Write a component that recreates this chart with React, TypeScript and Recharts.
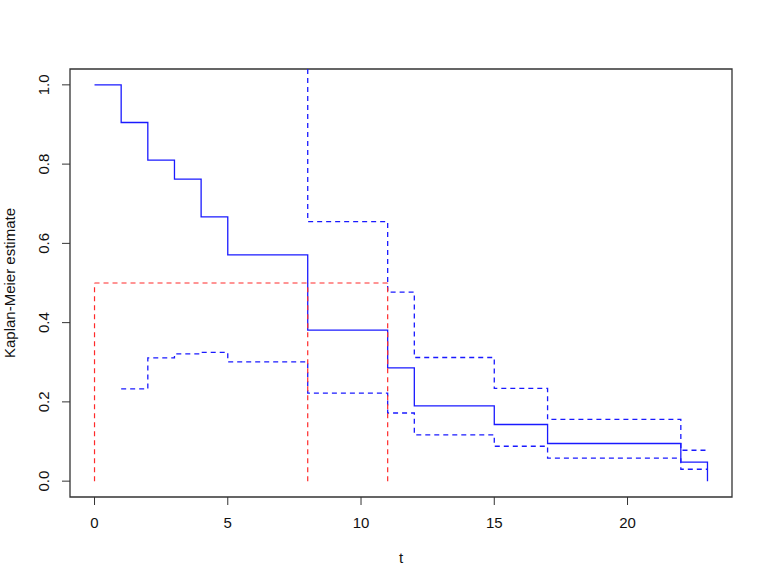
import { LineChart, Line, XAxis, YAxis, ReferenceLine, ReferenceArea, Label } from 'recharts';

// Kaplan-Meier step curve
const times = [0, 1, 2, 3, 4, 5, 8, 11, 12, 15, 17, 22, 23];
const survival = [1.0, 0.905, 0.81, 0.762, 0.667, 0.571, 0.381, 0.286, 0.19, 0.143, 0.095, 0.048, 0];

// lower confidence band
const lowerTimes = [1, 2, 3, 4, 5, 8, 11, 12, 15, 17, 22, 23];
const lowerBand = [0.233, 0.311, 0.321, 0.325, 0.301, 0.222, 0.172, 0.117, 0.088, 0.058, 0.03, 0.03];

// upper confidence band (off the top of the plot before t = 8)
const upperTimes = [8, 8, 11, 12, 15, 17, 22, 23];
const upperBand = [1.04, 0.655, 0.477, 0.312, 0.234, 0.156, 0.078, 0.078];

// median guides
const medianLevel = 0.5;
const medianTimes = [0, 8, 11];

const xTicks = [0, 5, 10, 15, 20];
const yTicks = [0, 0.2, 0.4, 0.6, 0.8, 1.0];
const xDomain: [number, number] = [-0.92, 23.92];
const yDomain: [number, number] = [-0.04, 1.04];

const font = '"Liberation Sans", Arial, Helvetica, sans-serif';
const W = 768;
const H = 584;
const plotLeft = 70;
const plotTop = 69;
const plotRight = 732;
const plotBottom = 497;

const toRows = (ts: number[], vs: number[]) => ts.map((t, i) => ({ t, v: vs[i] }));

const XTick = (props: any) => (
  <text x={props.x} y={528} textAnchor="middle" fontSize={15} fontFamily={font} fill="#111">
    {props.payload.value}
  </text>
);

const YTick = (props: any) => (
  <text
    x={49.5}
    y={props.y}
    transform={`rotate(-90, 49.5, ${props.y})`}
    textAnchor="middle"
    fontSize={15}
    fontFamily={font}
    fill="#111"
  >
    {Number(props.payload.value).toFixed(1)}
  </text>
);

export default function App() {
  const blue = '#1a1aff';
  const red = '#ff2a2a';

  return (
    <div style={{ position: 'absolute', left: 0, top: 0, width: W, height: H, background: '#fff' }}>
      <LineChart
        width={W}
        height={H}
        margin={{ top: plotTop, right: W - plotRight, bottom: 0, left: 0 }}
      >
        <XAxis
          type="number"
          dataKey="t"
          domain={xDomain}
          ticks={xTicks}
          allowDataOverflow
          height={H - plotBottom}
          axisLine={false}
          tickSize={8}
          tickLine={{ stroke: '#333' }}
          tick={XTick}
        >
          <Label
            content={() => (
              <text x={(plotLeft + plotRight) / 2} y={563} textAnchor="middle" fontSize={15} fontFamily={font} fill="#111">
                t
              </text>
            )}
          />
        </XAxis>
        <YAxis
          type="number"
          domain={yDomain}
          ticks={yTicks}
          allowDataOverflow
          width={plotLeft}
          axisLine={false}
          tickSize={8}
          tickLine={{ stroke: '#333' }}
          tick={YTick}
        >
          <Label
            content={() => {
              const cy = (plotTop + plotBottom) / 2;
              return (
                <text
                  x={15}
                  y={cy}
                  transform={`rotate(-90, 15, ${cy})`}
                  textAnchor="middle"
                  fontSize={15}
                  fontFamily={font}
                  fill="#111"
                >
                  Kaplan-Meier estimate
                </text>
              );
            }}
          />
        </YAxis>

        <ReferenceArea
          x1={xDomain[0]}
          x2={xDomain[1]}
          y1={yDomain[0]}
          y2={yDomain[1]}
          fill="none"
          stroke="#333"
          strokeWidth={1.3}
          ifOverflow="visible"
        />

        <Line
          data={toRows(times, survival)}
          dataKey="v"
          type="stepAfter"
          stroke={blue}
          strokeWidth={1.3}
          dot={false}
          activeDot={false}
          isAnimationActive={false}
        />
        <Line
          data={toRows(lowerTimes, lowerBand)}
          dataKey="v"
          type="stepAfter"
          stroke={blue}
          strokeWidth={1.3}
          strokeDasharray="5 4"
          dot={false}
          activeDot={false}
          isAnimationActive={false}
        />
        <Line
          data={toRows(upperTimes, upperBand)}
          dataKey="v"
          type="stepAfter"
          stroke={blue}
          strokeWidth={1.3}
          strokeDasharray="5 4"
          dot={false}
          activeDot={false}
          isAnimationActive={false}
        />

        <ReferenceLine
          segment={[
            { x: medianTimes[0], y: medianLevel },
            { x: medianTimes[medianTimes.length - 1], y: medianLevel },
          ]}
          stroke={red}
          strokeWidth={1.2}
          strokeDasharray="5 4"
        />
        {medianTimes.map((t) => (
          <ReferenceLine
            key={t}
            segment={[
              { x: t, y: 0 },
              { x: t, y: medianLevel },
            ]}
            stroke={red}
            strokeWidth={1.2}
            strokeDasharray="5 4"
          />
        ))}
      </LineChart>
    </div>
  );
}
